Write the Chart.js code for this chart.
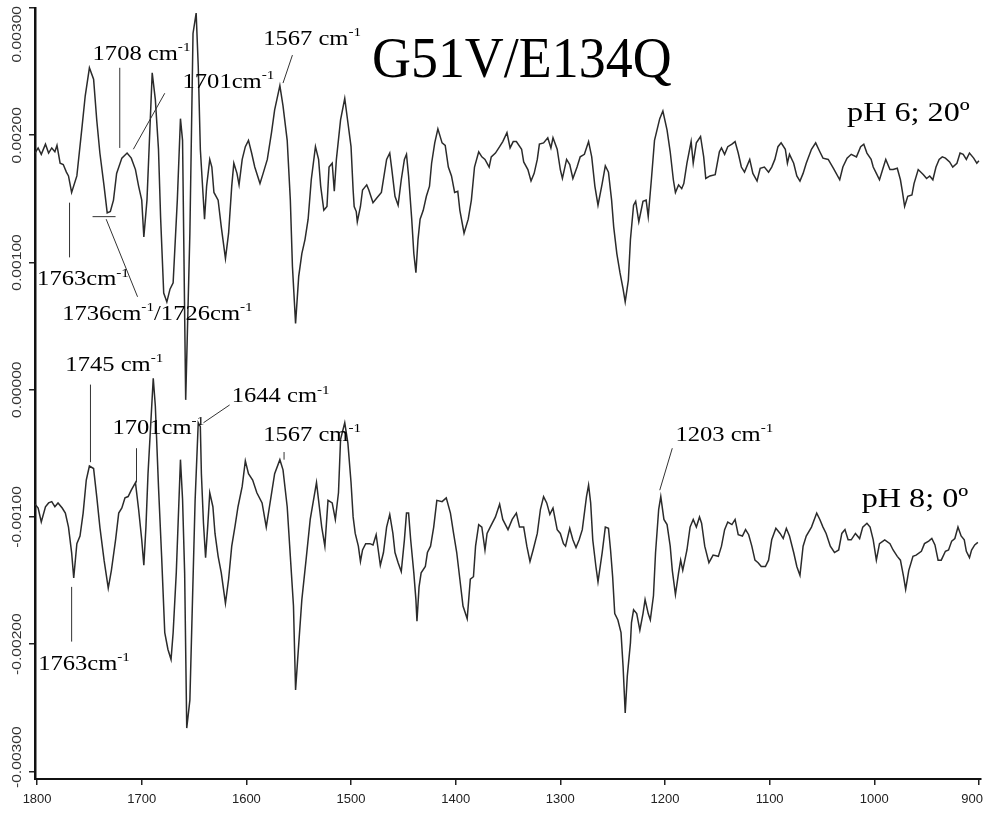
<!DOCTYPE html>
<html>
<head>
<meta charset="utf-8">
<script src="https://cdn.jsdelivr.net/npm/chart.js@4.4.1/dist/chart.umd.min.js"></script>
<style>
  html, body { margin: 0; padding: 0; background: #fff; }
</style>
</head>
<body>
<canvas id="spectrum" width="984" height="816"></canvas>
<script>
// pH 6; 20º spectrum (wavenumber, absorbance)
const topWave = [
  1802,1799,1796,1792,1789,1786,1783,1781,1778,1775,1772,1770,1767,1762,1757,1754,1750,1746,1743,1740,
  1736,1733,1730,1727,1724,1719,1714,1710,1706,1703,1700,1698,1695,1693,1690,1687,1684,1682,1679,1676,
  1673,1670,1666,1663,1661,1658,1654,1651,1648,1646,1644,1640,1638,1635,1633,1631,1627,1624,1620,1617,
  1614,1612,1609,1607,1604,1601,1598,1595,1592,1587,1584,1580,1576,1573,1568,1565,1561,1558,1556,1553,
  1550,1547,1544,1541,1538,1534,1531,1529,1526,1523,1521,1518,1516,1514,1510,1506,1503,1500,1498,1497,
  1495,1494,1491,1489,1485,1483,1479,1475,1471,1466,1463,1461,1458,1455,1452,1449,1447,1445,1442,1440,
  1438,1436,1434,1431,1428,1425,1423,1420,1417,1413,1410,1407,1404,1401,1398,1396,1392,1388,1385,1382,
  1378,1375,1372,1368,1366,1362,1358,1355,1351,1348,1345,1342,1337,1335,1331,1328,1325,1322,1320,1316,
  1312,1309,1307,1303,1300,1298,1294,1291,1288,1284,1281,1277,1273,1270,1267,1264,1260,1257,1254,1251,
  1249,1246,1243,1240,1238,1235,1233,1230,1228,1225,1221,1218,1216,1213,1210,1205,1202,1198,1195,1192,
  1190,1187,1184,1182,1179,1175,1173,1170,1166,1163,1161,1157,1152,1148,1146,1143,1140,1136,1133,1130,
  1127,1124,1119,1116,1112,1109,1105,1101,1098,1095,1092,1089,1085,1083,1081,1077,1074,1071,1068,1065,
  1060,1056,1052,1049,1044,1039,1033,1030,1026,1022,1017,1013,1010,1007,1003,1001,998,995,992,989,
  985,982,978,975,973,971,968,964,962,958,953,950,947,944,941,938,935,932,928,925,
  921,918,915,912,909,905,902,900
];
const topAbs = [
  0.00186,0.00190,0.00185,0.00193,0.00186,0.00190,0.00187,0.00192,0.00178,0.00177,0.00171,0.00168,0.00155,0.00168,0.00207,0.00231,0.00253,0.00244,0.00212,0.00186,
  0.00160,0.00139,0.00140,0.00149,0.00170,0.00182,0.00186,0.00182,0.00173,0.00160,0.00149,0.00120,0.00149,0.00189,0.00249,0.00228,0.00189,0.00136,0.00076,0.00069,
  0.00079,0.00084,0.00149,0.00213,0.00196,-0.00008,0.00123,0.00280,0.00296,0.00254,0.00189,0.00134,0.00160,0.00181,0.00175,0.00155,0.00149,0.00128,0.00103,0.00123,
  0.00160,0.00178,0.00170,0.00161,0.00181,0.00191,0.00196,0.00186,0.00175,0.00162,0.00170,0.00181,0.00202,0.00220,0.00239,0.00223,0.00196,0.00149,0.00097,0.00052,
  0.00089,0.00107,0.00118,0.00134,0.00165,0.00191,0.00181,0.00160,0.00141,0.00144,0.00175,0.00178,0.00156,0.00181,0.00212,0.00229,0.00210,0.00191,0.00157,0.00144,
  0.00140,0.00132,0.00144,0.00157,0.00161,0.00157,0.00147,0.00151,0.00155,0.00181,0.00186,0.00173,0.00152,0.00145,0.00165,0.00181,0.00185,0.00168,0.00134,0.00107,
  0.00092,0.00118,0.00134,0.00141,0.00152,0.00160,0.00178,0.00194,0.00205,0.00194,0.00192,0.00175,0.00168,0.00155,0.00156,0.00141,0.00123,0.00134,0.00149,0.00175,
  0.00187,0.00183,0.00181,0.00175,0.00183,0.00186,0.00191,0.00195,0.00202,0.00190,0.00195,0.00195,0.00189,0.00179,0.00173,0.00164,0.00170,0.00181,0.00193,0.00194,
  0.00198,0.00190,0.00198,0.00189,0.00173,0.00166,0.00181,0.00177,0.00166,0.00175,0.00183,0.00185,0.00195,0.00183,0.00160,0.00145,0.00162,0.00176,0.00171,0.00149,
  0.00128,0.00107,0.00092,0.00079,0.00069,0.00086,0.00118,0.00145,0.00148,0.00132,0.00148,0.00149,0.00136,0.00165,0.00196,0.00213,0.00219,0.00204,0.00187,0.00165,
  0.00155,0.00161,0.00158,0.00162,0.00178,0.00195,0.00178,0.00194,0.00199,0.00183,0.00166,0.00168,0.00169,0.00187,0.00190,0.00185,0.00191,0.00193,0.00195,0.00186,
  0.00175,0.00171,0.00181,0.00170,0.00164,0.00174,0.00175,0.00171,0.00175,0.00181,0.00191,0.00194,0.00189,0.00178,0.00185,0.00178,0.00168,0.00164,0.00170,0.00178,
  0.00189,0.00194,0.00187,0.00182,0.00181,0.00174,0.00165,0.00175,0.00182,0.00185,0.00183,0.00191,0.00193,0.00186,0.00181,0.00175,0.00170,0.00165,0.00173,0.00181,
  0.00173,0.00173,0.00174,0.00165,0.00155,0.00144,0.00152,0.00153,0.00162,0.00173,0.00169,0.00166,0.00168,0.00165,0.00175,0.00181,0.00183,0.00182,0.00179,0.00175,
  0.00178,0.00186,0.00185,0.00181,0.00186,0.00182,0.00178,0.00180
];

// pH 8; 0º spectrum
const botWave = [
  1802,1799,1796,1792,1789,1786,1783,1780,1776,1773,1770,1767,1765,1762,1759,1756,1753,1750,1746,1743,
  1740,1736,1732,1729,1725,1722,1719,1716,1713,1710,1706,1703,1700,1698,1696,1694,1689,1687,1684,1681,
  1678,1675,1672,1670,1667,1663,1661,1659,1657,1654,1649,1646,1644,1643,1641,1639,1637,1635,1632,1630,
  1627,1624,1620,1617,1614,1611,1608,1604,1601,1598,1594,1590,1585,1581,1577,1573,1568,1565,1561,1558,
  1555,1553,1551,1547,1543,1539,1533,1528,1525,1522,1518,1515,1512,1510,1506,1503,1500,1498,1496,1493,
  1491,1489,1486,1482,1479,1476,1474,1472,1469,1466,1463,1460,1458,1455,1452,1449,1447,1445,1443,1440,
  1438,1437,1435,1433,1429,1427,1424,1421,1418,1413,1409,1405,1402,1399,1396,1393,1389,1386,1383,1381,
  1378,1375,1372,1370,1367,1362,1358,1355,1350,1346,1342,1339,1335,1332,1329,1326,1322,1319,1316,1313,
  1310,1307,1303,1300,1297,1295,1291,1288,1285,1282,1279,1275,1273,1271,1269,1266,1264,1260,1257,1254,
  1252,1250,1248,1245,1242,1240,1238,1236,1233,1232,1230,1227,1224,1221,1219,1216,1214,1211,1209,1206,
  1204,1201,1198,1195,1193,1190,1187,1185,1183,1179,1176,1173,1170,1167,1165,1162,1158,1154,1149,1146,
  1143,1140,1136,1133,1130,1126,1123,1120,1117,1114,1111,1108,1104,1101,1098,1094,1090,1087,1084,1081,
  1077,1074,1071,1068,1065,1060,1055,1052,1049,1046,1042,1038,1034,1031,1028,1025,1022,1018,1014,1011,
  1007,1004,1001,998,995,990,985,982,978,975,972,970,967,963,960,955,952,948,945,942,
  939,936,932,929,926,923,920,917,914,912,909,907,904,901
];
const botAbs = [
  -0.00090,-0.00093,-0.00104,-0.00092,-0.00089,-0.00088,-0.00092,-0.00089,-0.00093,-0.00097,-0.00108,-0.00128,-0.00148,-0.00121,-0.00115,-0.00097,-0.00071,-0.00060,-0.00062,-0.00084,
  -0.00108,-0.00134,-0.00156,-0.00142,-0.00118,-0.00097,-0.00093,-0.00085,-0.00084,-0.00079,-0.00073,-0.00094,-0.00118,-0.00138,-0.00108,-0.00066,0.00009,-0.00013,-0.00076,-0.00131,
  -0.00191,-0.00204,-0.00212,-0.00191,-0.00144,-0.00055,-0.00086,-0.00144,-0.00266,-0.00244,-0.00087,-0.00026,-0.00029,-0.00066,-0.00105,-0.00132,-0.00108,-0.00081,-0.00092,-0.00113,
  -0.00131,-0.00144,-0.00168,-0.00149,-0.00123,-0.00108,-0.00092,-0.00076,-0.00056,-0.00066,-0.00071,-0.00081,-0.00089,-0.00108,-0.00087,-0.00066,-0.00055,-0.00063,-0.00092,-0.00131,
  -0.00170,-0.00236,-0.00212,-0.00165,-0.00134,-0.00102,-0.00073,-0.00108,-0.00123,-0.00087,-0.00089,-0.00102,-0.00081,-0.00039,-0.00026,-0.00042,-0.00073,-0.00100,-0.00113,-0.00123,
  -0.00135,-0.00126,-0.00121,-0.00121,-0.00122,-0.00114,-0.00126,-0.00138,-0.00128,-0.00108,-0.00098,-0.00113,-0.00128,-0.00136,-0.00143,-0.00118,-0.00097,-0.00097,-0.00118,-0.00144,
  -0.00165,-0.00182,-0.00155,-0.00144,-0.00139,-0.00128,-0.00123,-0.00108,-0.00087,-0.00088,-0.00085,-0.00097,-0.00113,-0.00128,-0.00149,-0.00170,-0.00180,-0.00149,-0.00147,-0.00123,
  -0.00106,-0.00108,-0.00126,-0.00113,-0.00108,-0.00100,-0.00090,-0.00102,-0.00110,-0.00102,-0.00097,-0.00108,-0.00108,-0.00123,-0.00135,-0.00126,-0.00113,-0.00094,-0.00084,-0.00089,
  -0.00098,-0.00093,-0.00110,-0.00113,-0.00121,-0.00123,-0.00109,-0.00118,-0.00124,-0.00118,-0.00110,-0.00084,-0.00075,-0.00089,-0.00118,-0.00139,-0.00151,-0.00128,-0.00108,-0.00109,
  -0.00126,-0.00147,-0.00176,-0.00181,-0.00191,-0.00218,-0.00254,-0.00225,-0.00199,-0.00183,-0.00173,-0.00176,-0.00189,-0.00176,-0.00165,-0.00176,-0.00181,-0.00162,-0.00128,-0.00094,
  -0.00084,-0.00102,-0.00106,-0.00123,-0.00142,-0.00161,-0.00144,-0.00134,-0.00142,-0.00126,-0.00108,-0.00102,-0.00108,-0.00100,-0.00105,-0.00123,-0.00136,-0.00130,-0.00131,-0.00123,
  -0.00110,-0.00104,-0.00106,-0.00102,-0.00114,-0.00115,-0.00110,-0.00114,-0.00123,-0.00134,-0.00136,-0.00139,-0.00139,-0.00134,-0.00118,-0.00109,-0.00113,-0.00117,-0.00109,-0.00115,
  -0.00128,-0.00139,-0.00146,-0.00123,-0.00115,-0.00108,-0.00097,-0.00102,-0.00108,-0.00113,-0.00123,-0.00128,-0.00126,-0.00113,-0.00110,-0.00118,-0.00118,-0.00113,-0.00117,-0.00108,
  -0.00105,-0.00108,-0.00118,-0.00134,-0.00121,-0.00118,-0.00121,-0.00126,-0.00131,-0.00134,-0.00147,-0.00157,-0.00142,-0.00131,-0.00130,-0.00127,-0.00121,-0.00119,-0.00117,-0.00122,
  -0.00134,-0.00134,-0.00127,-0.00126,-0.00119,-0.00117,-0.00108,-0.00115,-0.00118,-0.00127,-0.00132,-0.00126,-0.00122,-0.00120
];

const xTicks = [1800, 1700, 1600, 1500, 1400, 1300, 1200, 1100, 1000, 900];
const yTicks = [0.003, 0.002, 0.001, 0, -0.001, -0.002, -0.003];

// peak labels: parts starting with ^ are superscripts; anchor is left/baseline in data units
const notes = [
  { parts: ['1708 cm', '^-1'], w: 1747, a: 0.00259 },
  { parts: ['1701cm', '^-1'], w: 1661, a: 0.00237 },
  { parts: ['1567 cm', '^-1'], w: 1584, a: 0.00271 },
  { parts: ['1763cm', '^-1'], w: 1800, a: 0.00082 },
  { parts: ['1736cm', '^-1', '/1726cm', '^-1'], w: 1776, a: 0.00055 },
  { parts: ['1745 cm', '^-1'], w: 1773, a: 0.00015 },
  { parts: ['1701cm', '^-1'], w: 1728, a: -0.00035 },
  { parts: ['1644 cm', '^-1'], w: 1614, a: -0.00010 },
  { parts: ['1567 cm', '^-1'], w: 1584, a: -0.00040 },
  { parts: ['1763cm', '^-1'], w: 1799, a: -0.00220 },
  { parts: ['1203 cm', '^-1'], w: 1190, a: -0.00040 }
];
const leaders = [
  [1721, 0.00253, 1721, 0.00190],
  [1678, 0.00233, 1708, 0.00189],
  [1556, 0.00263, 1565, 0.00241],
  [1769, 0.00147, 1769, 0.00104],
  [1747, 0.00136, 1725, 0.00136],
  [1734, 0.00134, 1704, 0.00073],
  [1749, 0.00004, 1749, -0.00057],
  [1705, -0.00046, 1705, -0.00073],
  [1616, -0.00012, 1641, -0.00026],
  [1564, -0.00049, 1564, -0.00055],
  [1767, -0.00155, 1767, -0.00198],
  [1193, -0.00046, 1205, -0.00079]
];
const headings = [
  { parts: ['G51V/E134Q'], w: 1480, a: 0.00246, size: 58, sx: 0.93 },
  { parts: ['pH 6; 20º'], w: 1026, a: 0.00211, size: 28, sx: 1.15 },
  { parts: ['pH 8; 0º'], w: 1012, a: -0.00092, size: 28, sx: 1.15 }
];

function toPoints(xs, ys) {
  return xs.map((x, i) => ({ x: x, y: ys[i] }));
}

function drawParts(ctx, parts, x, y, size, sx) {
  let cx = x;
  parts.forEach(p => {
    const sup = p[0] === '^';
    const t = sup ? p.slice(1) : p;
    const fs = sup ? Math.round(size * 0.6) : size;
    ctx.font = fs + 'px "Liberation Serif", "Times New Roman", serif';
    ctx.save();
    ctx.translate(cx, sup ? y - size * 0.42 : y);
    ctx.scale(sx, 1);
    ctx.fillText(t, 0, 0);
    ctx.restore();
    cx += ctx.measureText(t).width * sx;
  });
}

const textPlugin = {
  id: 'spectrumText',
  afterDraw(chart) {
    const ctx = chart.ctx;
    const xs = chart.scales.x, ys = chart.scales.y;
    const W = chart.width;
    ctx.save();

    // x tick labels (kept inside the canvas at the right end)
    ctx.fillStyle = '#222';
    ctx.font = '13px "Liberation Sans", Arial, sans-serif';
    ctx.textAlign = 'center';
    ctx.textBaseline = 'middle';
    xTicks.forEach(v => {
      const txt = String(v);
      const half = ctx.measureText(txt).width / 2;
      const px = Math.min(xs.getPixelForValue(v), W - 1 - half);
      ctx.fillText(txt, px, xs.top + 20);
    });

    // rotated y tick labels
    ctx.fillStyle = '#333';
    ctx.font = '12px "Liberation Sans", Arial, sans-serif';
    yTicks.forEach(v => {
      const txt = v.toFixed(5);
      const len = ctx.measureText(txt).width * 1.3;
      let py = ys.getPixelForValue(v);
      py = Math.min(Math.max(py, 6 + len / 2), 788 - len / 2);
      ctx.save();
      ctx.translate(18, py);
      ctx.rotate(-Math.PI / 2);
      ctx.scale(1.3, 1);
      ctx.textAlign = 'center';
      ctx.textBaseline = 'middle';
      ctx.fillText(txt, 0, 0);
      ctx.restore();
    });

    // leader lines
    ctx.strokeStyle = '#333';
    ctx.lineWidth = 1;
    leaders.forEach(l => {
      ctx.beginPath();
      ctx.moveTo(xs.getPixelForValue(l[0]), ys.getPixelForValue(l[1]));
      ctx.lineTo(xs.getPixelForValue(l[2]), ys.getPixelForValue(l[3]));
      ctx.stroke();
    });

    ctx.fillStyle = '#000';
    ctx.textAlign = 'left';
    ctx.textBaseline = 'alphabetic';
    notes.forEach(n => {
      drawParts(ctx, n.parts, xs.getPixelForValue(n.w), ys.getPixelForValue(n.a), 21, 1.17);
    });
    headings.forEach(h => {
      drawParts(ctx, h.parts, xs.getPixelForValue(h.w), ys.getPixelForValue(h.a), h.size, h.sx);
    });
    ctx.restore();
  }
};

const lineStyle = {
  borderColor: '#2b2b2b',
  borderWidth: 1.5,
  pointRadius: 0,
  tension: 0,
  fill: false
};

new Chart(document.getElementById('spectrum'), {
  type: 'line',
  data: {
    datasets: [
      Object.assign({ label: 'pH 6; 20º', data: toPoints(topWave, topAbs) }, lineStyle),
      Object.assign({ label: 'pH 8; 0º', data: toPoints(botWave, botAbs) }, lineStyle)
    ]
  },
  options: {
    responsive: false,
    animation: false,
    devicePixelRatio: 1,
    layout: { padding: { left: 0, right: 3, top: 8, bottom: 0 } },
    plugins: { legend: { display: false }, tooltip: { enabled: false } },
    scales: {
      x: {
        type: 'linear',
        reverse: true,
        min: 898,
        max: 1802,
        afterBuildTicks: s => { s.ticks = xTicks.map(v => ({ value: v })); },
        afterFit: s => { s.height = 37; s.paddingLeft = 0; s.paddingRight = 0; },
        border: { display: true, color: '#111', width: 2 },
        grid: { drawOnChartArea: false, drawTicks: true, tickLength: 6, color: '#222', lineWidth: 1.5 },
        ticks: { autoSkip: false, maxRotation: 0, minRotation: 0, color: 'rgba(0,0,0,0)', font: { size: 13 } }
      },
      y: {
        type: 'linear',
        min: -0.00306,
        max: 0.003,
        afterBuildTicks: s => { s.ticks = yTicks.map(v => ({ value: v })); },
        afterFit: s => { s.width = 35; s.paddingTop = 0; s.paddingBottom = 0; },
        border: { display: true, color: '#111', width: 2.5 },
        grid: { drawOnChartArea: false, drawTicks: true, tickLength: 6, color: '#222', lineWidth: 1.5 },
        ticks: { color: 'rgba(0,0,0,0)', font: { size: 12 } }
      }
    }
  },
  plugins: [textPlugin]
});
</script>
</body>
</html>
